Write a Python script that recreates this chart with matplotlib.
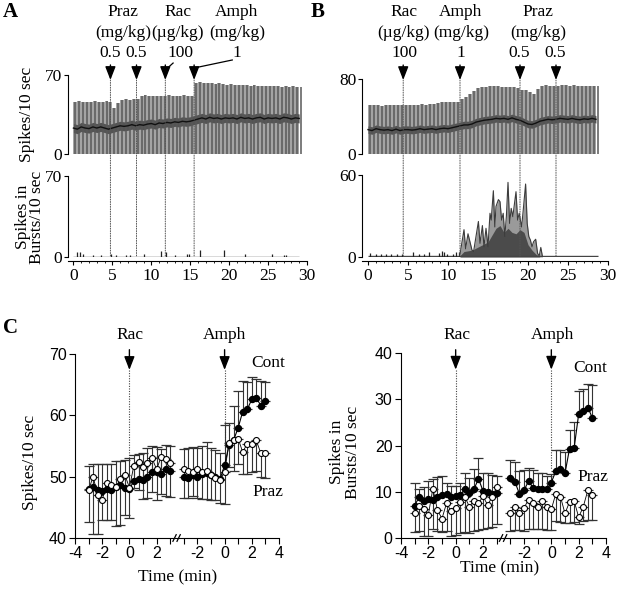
import numpy as np
import matplotlib
matplotlib.use("Agg")
import matplotlib.pyplot as plt
from matplotlib.patches import ConnectionPatch

W, H = 621, 589
SERIF = ["Liberation Serif", "DejaVu Serif"]
SANS = ["Liberation Sans", "DejaVu Sans"]
plt.rcParams["font.family"] = SERIF

# ---------------- panel A / B : ratemeter traces (0.5 min bins) ----------------
a_env = [46, 47, 46, 46.5, 46, 47, 46.5, 46, 47, 46.5,
         41, 45, 48, 48.5, 48, 49, 49, 51, 52, 51.5,
         51, 51.5, 51, 51.5, 52, 51.5, 51, 51.5, 52, 51,
         51.5, 63, 63.5, 63, 62.5, 63, 62, 62.5, 62, 61.5,
         62, 61.5, 61, 61.5, 61, 60.5, 61, 60.5, 60, 60.5,
         60, 60.5, 60, 59.5, 60, 59.5, 60, 59.5, 59]
a_mid = [23, 22, 24, 23, 22.5, 24, 23, 24, 23, 22,
         23, 24, 25, 24.5, 25, 26, 25, 26, 25.5, 26.5,
         27, 26, 27.5, 27, 28, 27.5, 28.5, 28, 29, 28.5,
         29, 30, 31, 32, 31, 32.5, 31.5, 32, 31, 32,
         31.5, 32, 31, 32.5, 31.5, 32, 31, 32, 32.5, 31,
         32, 31.5, 32, 31, 32.5, 32, 31, 32, 31.5]
b_env = [52, 52.5, 52, 51.5, 52, 52.5, 52, 52, 52.5, 52,
         52, 52.5, 52, 53, 52.5, 53, 53.5, 54, 55, 55.5,
         56, 55.5, 56, 59, 61, 64, 67, 70, 71, 72,
         72.5, 73, 72.5, 72, 71.5, 71, 72, 70, 68.5, 68,
         66, 64, 69, 73, 73.5, 73, 72.5, 73, 74, 73.5,
         73, 73.5, 73, 72.5, 73, 72.5, 73, 72.5]
b_mid = [26, 25, 27, 26, 25.5, 26, 25, 26.5, 25, 26,
         26, 25.5, 26, 27, 26, 26.5, 27, 26, 27, 27.5,
         27, 28, 29, 30, 31, 31, 32, 34, 35, 36,
         36.5, 37, 38, 37.5, 38, 37, 38.5, 37, 36, 34,
         32, 31.5, 33, 35, 36, 37, 36.5, 37, 38, 37.5,
         37, 38, 37, 36.5, 37.5, 37, 38, 37]
bin_min = 0.5

# spikes in bursts
a_spike_t = [0.5, 0.8, 1.2, 2.5, 3.5, 4.8, 5.5, 6.8, 7.3, 9.0, 11.3, 11.9, 13.0,
             14.6, 14.8, 16.3, 19.4, 22.0, 25.5, 27.0, 27.3]
a_spike_h = [4, 4, 3, 2, 2, 3, 2, 2, 2, 3, 5, 4, 2, 3, 3, 6, 6, 3, 3, 2, 2]
b_spike_t = [0.3, 1.0, 1.6, 2.2, 2.9, 3.6, 4.3, 5.6, 6.4, 7.0, 7.6, 8.9, 9.2,
             9.5, 9.9, 10.6, 11.0, 11.4]
b_spike_h = [3, 2.5, 2.5, 2.5, 2.5, 2.5, 2.5, 4, 2, 2.5, 3.5, 3, 4.5, 4, 2.5, 2.5, 3.5, 4]
b_burst_t = [11.5, 12.0, 12.2, 12.5, 13.0, 13.2, 13.8, 14.0, 14.3, 14.5,
             14.75, 15.0, 15.25, 15.4, 15.67, 15.85, 16.0, 16.3, 16.5, 16.7,
             16.9, 17.1, 17.3, 17.5, 17.7, 17.9, 18.1, 18.5, 18.7, 18.9,
             19.2, 19.4, 19.7, 19.9, 20.1, 20.3, 20.5, 20.7, 20.96, 21.2,
             21.4, 21.6, 21.8]
b_burst_v = [2, 20, 6, 17, 5, 4, 26, 10, 23, 7.5,
             21, 7.5, 32, 27, 48.5, 22, 37, 42, 40.5, 27,
             32, 15, 30, 54.6, 24.6, 35.6, 29.5, 47.8, 27, 32,
             22, 34, 53.4, 24.6, 15, 12.4, 7.5, 11.2, 13, 2.7,
             0.7, 7, 0.5]
b_core_t = [11.5, 12, 13, 14, 15, 15.5, 16, 16.5, 17, 17.5, 18, 18.5, 19, 19.5, 20, 20.5, 21, 21.5]
b_core_v = [1, 4, 5, 8, 11, 16, 21, 23, 18, 21, 18, 17, 20, 18, 9, 5, 2, 0]

a_duration = 29.0
b_duration = 28.7
a_dose_t = [4.75, 8.1, 11.8, 15.5]
b_dose_t = [4.4, 11.5, 19.0, 23.5]

# ---------------- panel C : means +/- SEM, 20 s bins ----------------
c_time = [-3, -2.67, -2.33, -2, -1.67, -1.33, -1, -0.67, -0.33, 0,
          0.33, 0.67, 1, 1.33, 1.67, 2, 2.33, 2.67, 3]
seg_offset = 7  # second recording segment drawn after the axis break

rate_cont1 = [48.0, 48.3, 47.8, 47.7, 48.0, 47.8, 48.3, 48.6, 48.2, 48.0,
              49.3, 49.6, 49.4, 50.0, 50.8, 50.7, 50.5, 51.3, 51.0]
rate_cont1_sem = [3.8, 3.8, 4.2, 4.3, 4.0, 4.3, 4.2, 4.0, 4.5, 5.0,
                  4.3, 4.1, 4.5, 4.6, 4.2, 4.2, 4.0, 3.8, 4.0]
rate_praz1 = [47.8, 50.0, 47.0, 46.2, 49.0, 48.7, 48.3, 49.6, 50.3, 48.2,
              51.8, 52.4, 51.6, 52.3, 53.0, 51.2, 53.2, 52.8, 52.2]
rate_praz1_sem = [5.2, 9.3, 6.3, 3.2, 6.0, 5.8, 6.4, 7.4, 6.5, 5.0,
                  3.7, 4.5, 5.2, 5.8, 5.5, 5.0, 6.0, 6.0, 5.5]
rate_cont2 = [50.0, 49.8, 50.3, 50.0, 50.4, 50.6, 50.2, 50.0, 49.6, 51.9,
              55.2, 56.0, 58.0, 60.6, 61.0, 62.6, 62.8, 61.6, 62.3]
rate_cont2_sem = [4.5, 4.8, 4.5, 4.6, 4.6, 5.0, 4.5, 4.4, 4.3, 6.5,
                  3.5, 5.5, 6.0, 5.0, 4.5, 3.6, 3.2, 4.0, 3.2]
rate_praz2 = [51.2, 51.0, 50.8, 51.2, 50.8, 51.0, 50.2, 49.8, 49.5, 50.8,
              55.5, 56.0, 56.2, 54.0, 55.4, 55.3, 55.9, 53.8, 53.8]
rate_praz2_sem = [4.7, 4.5, 4.0, 4.6, 4.4, 4.6, 4.0, 3.6, 3.8, 5.3,
                  4.0, 5.0, 4.2, 3.5, 4.9, 4.5, 4.9, 3.8, 4.0]

burst_cont1 = [7.0, 8.9, 8.0, 8.5, 8.3, 8.8, 9.3, 9.5, 8.8, 9.0,
               9.3, 10.5, 9.8, 10.5, 12.8, 10.2, 10.0, 9.5, 9.8]
burst_cont1_sem = [4.8, 1.8, 3.0, 3.8, 4.5, 4.3, 4.0, 2.3, 2.5, 2.3,
                   2.5, 3.5, 3.2, 4.5, 4.6, 3.8, 4.0, 4.2, 3.5]
burst_praz1 = [5.3, 7.0, 6.2, 5.0, 10.7, 6.0, 4.2, 7.5, 5.8, 6.5,
               7.8, 8.9, 6.8, 8.0, 7.5, 9.0, 7.2, 8.8, 11.0]
burst_praz1_sem = [4.0, 5.5, 5.8, 4.5, 8.7, 4.5, 2.8, 6.0, 5.3, 5.8,
                   6.8, 7.5, 5.8, 6.5, 5.8, 7.0, 5.0, 6.5, 8.0]
burst_cont2 = [12.9, 12.2, 9.5, 10.3, 12.3, 10.8, 10.6, 10.6, 10.5, 12.0,
               14.5, 15.0, 14.0, 19.3, 19.5, 26.8, 27.5, 28.2, 26.0]
burst_cont2_sem = [4.0, 4.3, 5.0, 4.5, 2.8, 3.8, 3.5, 3.5, 2.8, 1.8,
                   4.5, 4.0, 4.5, 4.0, 5.5, 5.0, 4.8, 5.0, 7.0]
burst_praz2 = [5.5, 6.8, 5.3, 6.5, 8.3, 7.5, 6.6, 8.0, 6.8, 6.2,
               9.6, 8.9, 5.3, 7.8, 8.0, 4.5, 6.7, 10.3, 9.3]
burst_praz2_sem = [4.0, 5.0, 3.5, 5.0, 6.3, 5.5, 4.6, 6.0, 5.0, 4.5,
                   6.0, 5.5, 2.0, 4.5, 4.5, 1.5, 3.0, 6.5, 5.5]


fig = plt.figure(figsize=(W / 100, H / 100), dpi=100)


def px_axes(x0, y0, x1, y1):
    # rectangle given in pixels from the top-left corner
    return fig.add_axes([x0 / W, 1 - y1 / H, (x1 - x0) / W, (y1 - y0) / H])


def ftext(x, y, s, **kw):
    kw.setdefault("ha", "center")
    kw.setdefault("va", "center")
    fig.text(x / W, 1 - y / H, s, **kw)


def trace_axes(ax, ymax):
    ax.set_ylim(0, ymax)
    ax.set_xlim(-0.7, 30)
    for s in ("top", "right", "bottom"):
        ax.spines[s].set_visible(False)
    ax.set_xticks([])
    ax.set_yticks([0, ymax])
    ax.tick_params(axis="y", length=3, width=0.8, pad=1, labelsize=12.5)
    ax.patch.set_alpha(0)


def draw_rate(ax, env, mid):
    t = np.arange(len(env)) * bin_min
    env = np.array(env)
    mid = np.array(mid)
    ax.fill_between(t, 0, env, step="post", color="#a4a4a4", lw=0)
    ax.vlines(t + bin_min * 0.5, 0, env, color="#595959", lw=1.1)
    ax.fill_between(t, mid - 4, mid + 4, color="#3a3a3a", lw=0, alpha=0.75)
    ax.plot(t, mid, color="#111111", lw=1.0)


def bottom_axes(ax, ymax):
    trace_axes(ax, ymax)
    ax.spines["bottom"].set_visible(True)
    ax.spines["bottom"].set_position(("outward", 3))
    ax.set_xticks(range(0, 31, 5))
    ax.set_xticks(range(0, 31), minor=True)
    ax.tick_params(axis="x", length=3, width=0.8, labelsize=12.5, pad=2)
    ax.tick_params(axis="x", which="minor", length=1.5, width=0.6)


def dose_arrow(ax, t, tip, top):
    ax.annotate("", xy=(t, tip), xytext=(t, top), annotation_clip=False,
                arrowprops=dict(arrowstyle="-|>,head_length=0.9,head_width=0.35",
                                color="k", lw=1.0, mutation_scale=9,
                                shrinkA=0, shrinkB=0))


def dotted_link(axA, axB, t, yA, yB):
    con = ConnectionPatch(xyA=(t, yA), coordsA=axA.transData,
                          xyB=(t, yB), coordsB=axB.transData,
                          color="#555555", lw=0.7, linestyle=(0, (1, 1.5)))
    fig.add_artist(con)


# ---------------- A ----------------
axA1 = px_axes(68, 75, 307, 154)
axA2 = px_axes(68, 176, 307, 257)
trace_axes(axA1, 70)
draw_rate(axA1, a_env, a_mid)
bottom_axes(axA2, 70)
axA2.hlines(0.4, 0, a_duration, color="#444444", lw=1.0)
axA2.vlines(a_spike_t, 0, a_spike_h, color="#222222", lw=0.9)

tipA, topA = 65.6, 78.9
for t in a_dose_t:
    dose_arrow(axA1, t, tipA, topA)
    dotted_link(axA1, axA2, t, tipA, 0)
# leaders from the dose numbers
axA1.plot([12.8, 11.8, 11.8], [80.6, 74.4, 73.0], color="k", lw=0.9, clip_on=False)
axA1.plot([20.4, 15.5, 15.5], [83.3, 76.2, 73.0], color="k", lw=0.9, clip_on=False)

ftext(10, 12, "A", fontsize=15, fontweight="bold")
ftext(123, 12, "Praz", fontsize=12.5)
ftext(123, 33, "(mg/kg)", fontsize=12.5)
ftext(110, 53, "0.5", fontsize=12.5)
ftext(136, 53, "0.5", fontsize=12.5)
ftext(178, 12, "Rac", fontsize=12.5)
ftext(178, 33, "(\u00b5g/kg)", fontsize=12.5)
ftext(180, 53, "100", fontsize=12.5)
ftext(237, 12, "Amph", fontsize=12.5)
ftext(237, 33, "(mg/kg)", fontsize=12.5)
ftext(237, 53, "1", fontsize=12.5)
ftext(27, 114, "Spikes/10 sec", fontsize=12.5, rotation=90)
ftext(30, 217, "Spikes in\nBursts/10 sec", fontsize=12.5, rotation=90, linespacing=0.82)

# ---------------- B ----------------
axB1 = px_axes(362, 79, 608, 154)
axB2 = px_axes(362, 175, 608, 257)
trace_axes(axB1, 80)
draw_rate(axB1, b_env, b_mid)
bottom_axes(axB2, 60)
axB2.set_xlim(-0.75, 30)
axB1.set_xlim(-0.75, 30)
axB2.hlines(0.4, 0, b_duration, color="#444444", lw=1.0)
axB2.vlines(b_spike_t, 0, b_spike_h, color="#222222", lw=0.9)
axB2.fill_between(b_burst_t, 0, b_burst_v, color="#9a9a9a", lw=0)
axB2.plot(b_burst_t, b_burst_v, color="#3c3c3c", lw=0.8)
axB2.fill_between(b_core_t, 0, b_core_v, color="#2a2a2a", lw=0, alpha=0.7)

tipB, topB = 78.9, 94.9
for t in b_dose_t:
    dose_arrow(axB1, t, tipB, topB)
    dotted_link(axB1, axB2, t, tipB, 0)

ftext(318, 12, "B", fontsize=15, fontweight="bold")
ftext(404, 12, "Rac", fontsize=12.5)
ftext(404, 33, "(\u00b5g/kg)", fontsize=12.5)
ftext(404, 53, "100", fontsize=12.5)
ftext(461, 12, "Amph", fontsize=12.5)
ftext(461, 33, "(mg/kg)", fontsize=12.5)
ftext(461, 53, "1", fontsize=12.5)
ftext(538, 12, "Praz", fontsize=12.5)
ftext(538, 33, "(mg/kg)", fontsize=12.5)
ftext(519, 53, "0.5", fontsize=12.5)
ftext(555, 53, "0.5", fontsize=12.5)


# ---------------- C ----------------
def draw_group(ax, segs):
    for t, c, ce, p, pe in segs:
        x = np.array(t, dtype=float)
        zero = np.zeros(len(x))
        ax.errorbar(x, p, yerr=[pe, zero], fmt="none", ecolor="#333333",
                    elinewidth=0.8, capsize=3.5, capthick=0.9, zorder=2)
        ax.errorbar(x, c, yerr=[zero, ce], fmt="none", ecolor="#333333",
                    elinewidth=0.8, capsize=3.5, capthick=0.9, zorder=2)
        ax.plot(x, c, color="k", lw=0.8, zorder=3)
        ax.plot(x, p, color="k", lw=0.6, zorder=3)
        ax.plot(x, c, "o", mfc="k", mec="k", ms=4.3, zorder=4)
        ax.plot(x, p, "o", mfc="w", mec="k", ms=4.3, mew=0.8, zorder=5)


def c_axes(ax, ylim, yticks):
    ax.set_xlim(-4, 11)
    ax.set_ylim(*ylim)
    for s in ("top", "right"):
        ax.spines[s].set_visible(False)
    pos = list(range(-4, 4)) + list(range(4, 12))
    labs = ["-4", "", "-2", "", "0", "", "2", "",
            "", "-2", "", "0", "", "2", "", "4"]
    ax.set_xticks(pos)
    ax.set_xticklabels(labs)
    ax.set_yticks(yticks)
    ax.tick_params(length=4, width=0.8, labelsize=11.5, pad=2)
    for lab in ax.get_xticklabels() + ax.get_yticklabels():
        lab.set_fontfamily(SANS)
    # axis break marks
    tr = ax.get_xaxis_transform()
    for dx in (-0.18, 0.12):
        ax.plot([3.5 + dx - 0.12, 3.5 + dx + 0.12], [-0.018, 0.018], color="k",
                lw=0.9, transform=tr, clip_on=False)


def c_arrow(ax, x, tip, top, end):
    dose_arrow(ax, x, tip, top)
    ax.plot([x, x], [tip, end], color="#444444", lw=0.8, linestyle=(0, (1, 1.3)),
            clip_on=False, zorder=1)


t2 = [v + seg_offset for v in c_time]

axC1 = px_axes(75, 354, 279, 538)
c_axes(axC1, (40, 70), [40, 50, 60, 70])
draw_group(axC1, [(c_time, rate_cont1, rate_cont1_sem, rate_praz1, rate_praz1_sem),
                  (t2, rate_cont2, rate_cont2_sem, rate_praz2, rate_praz2_sem)])
c_arrow(axC1, 0, 67.4, 70.7, 53.0)
c_arrow(axC1, seg_offset, 67.4, 70.7, 53.8)

axC2 = px_axes(401, 353, 606, 538)
c_axes(axC2, (0, 40), [0, 10, 20, 30, 40])
draw_group(axC2, [(c_time, burst_cont1, burst_cont1_sem, burst_praz1, burst_praz1_sem),
                  (t2, burst_cont2, burst_cont2_sem, burst_praz2, burst_praz2_sem)])
c_arrow(axC2, 0, 36.4, 40.7, 10.5)
c_arrow(axC2, seg_offset, 36.4, 40.7, 15.0)

ftext(10, 328, "C", fontsize=15, fontweight="bold")
ftext(130, 335, "Rac", fontsize=12.5)
ftext(225, 335, "Amph", fontsize=12.5)
ftext(268, 363, "Cont", fontsize=12.5)
ftext(268, 492, "Praz", fontsize=12.5)
ftext(30, 462, "Spikes/10 sec", fontsize=12.5, rotation=90)
ftext(178, 577, "Time (min)", fontsize=12.5)

ftext(457, 335, "Rac", fontsize=12.5)
ftext(553, 335, "Amph", fontsize=12.5)
ftext(590, 368, "Cont", fontsize=12.5)
ftext(593, 477, "Praz", fontsize=12.5)
ftext(345, 452, "Spikes in\nBursts/10 sec", fontsize=12.5, rotation=90, linespacing=1.0)
ftext(500, 568, "Time (min)", fontsize=12.5)

fig.savefig("out.png", dpi=100)
